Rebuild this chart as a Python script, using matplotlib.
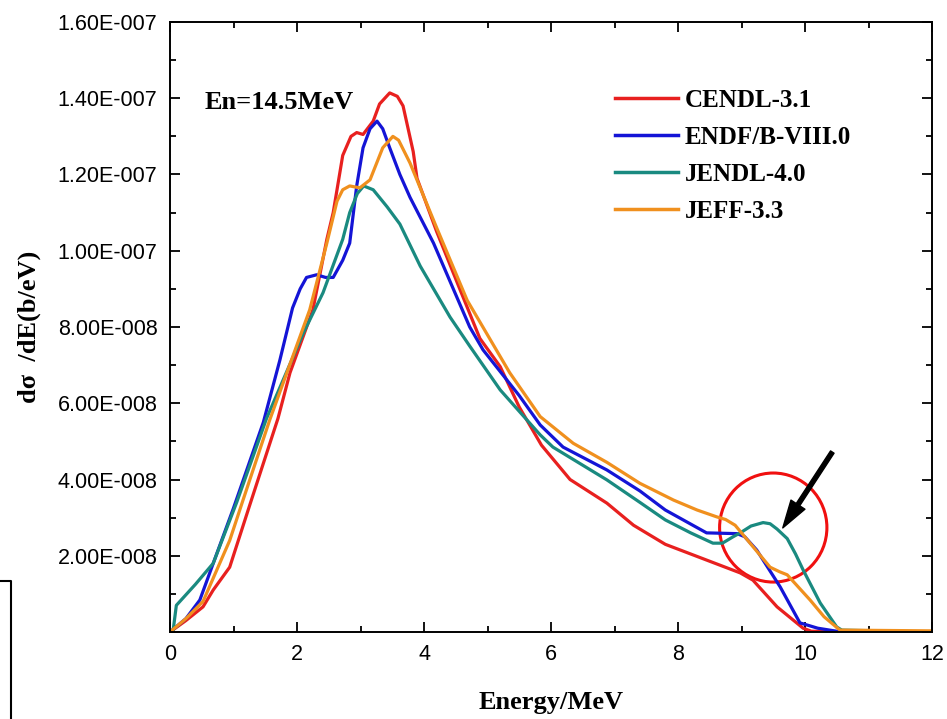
import matplotlib
matplotlib.use("Agg")
import matplotlib.pyplot as plt
from matplotlib.patches import Ellipse
from matplotlib.lines import Line2D
from matplotlib.ticker import MultipleLocator, FuncFormatter

# data, y in units of 1e-8 b/eV
cendl_x = [0, 0.25, 0.52, 0.68, 0.94, 1.26, 1.7, 1.89, 2.25, 2.47, 2.57, 2.63, 2.72, 2.85, 2.94, 3.04,
           3.2, 3.3, 3.46, 3.58, 3.67, 3.83, 3.89, 4.2, 4.57, 4.88, 5.2, 5.5, 5.85, 6.3, 6.88, 7.3, 7.8,
           8.98, 9.18, 9.56, 9.97, 10.1, 11, 12]
cendl_y = [0, 0.3, 0.66, 1.1, 1.7, 3.35, 5.6, 6.8, 8.45, 10.3, 11.0, 11.6, 12.5, 13.0, 13.1, 13.05,
           13.4, 13.85, 14.14, 14.05, 13.8, 12.6, 11.9, 10.5, 8.97, 7.7, 6.96, 5.9, 4.9, 4.0, 3.38, 2.8, 2.3,
           1.55, 1.36, 0.66, 0.1, 0.02, 0.0, 0.0]

endf_x = [0, 0.25, 0.47, 0.74, 1.0, 1.47, 1.73, 1.93, 2.05, 2.15, 2.31, 2.45, 2.57, 2.72, 2.83, 2.94,
          3.04, 3.15, 3.26, 3.35, 3.46, 3.62, 3.78, 4.15, 4.72, 4.93, 5.5, 5.83, 6.19, 6.88, 7.4, 7.8,
          8.45, 8.93, 9.05, 9.24, 9.61, 9.92, 10.2, 10.5, 12]
endf_y = [0, 0.35, 0.84, 2.07, 3.25, 5.5, 7.13, 8.5, 9.0, 9.3, 9.37, 9.3, 9.3, 9.75, 10.2, 11.7,
          12.7, 13.2, 13.4, 13.2, 12.7, 12.0, 11.4, 10.2, 8.0, 7.4, 6.2, 5.43, 4.85, 4.25, 3.7, 3.2,
          2.6, 2.58, 2.5, 2.15, 1.18, 0.24, 0.1, 0.02, 0.0]

jendl_x = [0, 0.05, 0.1, 0.4, 0.68, 1.05, 1.52, 2.1, 2.41, 2.72, 2.83, 2.95, 3.05, 3.2, 3.42, 3.62,
           3.94, 4.41, 4.72, 5.2, 5.83, 6.03, 6.88, 7.4, 7.8, 8.2, 8.55, 8.7, 8.87, 8.98, 9.15, 9.34,
           9.45, 9.56, 9.72, 9.85, 9.97, 10.24, 10.5, 10.58, 12]
jendl_y = [0, 0.05, 0.7, 1.25, 1.8, 3.4, 5.6, 7.84, 8.9, 10.3, 11.0, 11.5, 11.7, 11.6, 11.15, 10.7,
           9.6, 8.26, 7.5, 6.35, 5.17, 4.85, 3.99, 3.4, 2.94, 2.6, 2.33, 2.33, 2.5, 2.6, 2.78, 2.87,
           2.84, 2.7, 2.45, 2.05, 1.63, 0.76, 0.13, 0.05, 0.0]

jeff_x = [0, 0.25, 0.52, 0.94, 1.15, 1.57, 2.2, 2.47, 2.63, 2.72, 2.83, 2.99, 3.15, 3.35, 3.51, 3.6,
          3.78, 4.2, 4.68, 5.35, 5.83, 6.35, 6.88, 7.4, 7.93, 8.3, 8.61, 8.75, 8.9, 9.1, 9.45, 9.6,
          9.72, 10.08, 10.3, 10.55, 12]
jeff_y = [0, 0.35, 0.8, 2.4, 3.46, 5.56, 8.45, 10.2, 11.3, 11.6, 11.7, 11.65, 11.86, 12.7, 13.0, 12.9,
          12.3, 10.6, 8.7, 6.8, 5.65, 4.95, 4.45, 3.9, 3.46, 3.2, 3.02, 2.95, 2.8, 2.4, 1.7, 1.58,
          1.5, 0.84, 0.4, 0.05, 0.03]

labels = ["CENDL-3.1", "ENDF/B-VIII.0", "JENDL-4.0", "JEFF-3.3"]
colors = ["#e8201f", "#1414d6", "#1a8a80", "#f0901e"]
series = [(cendl_x, cendl_y), (endf_x, endf_y), (jendl_x, jendl_y), (jeff_x, jeff_y)]

serif = ["Liberation Serif", "DejaVu Serif"]
sans = "Liberation Sans"

fig = plt.figure(figsize=(9.47, 7.19), dpi=100)
ax = fig.add_axes([170/947, 1-632/719, (932-170)/947, (632-22)/719])

for (xs, ys), c, lab in zip(series, colors, labels):
    ax.plot(xs, [v*1e-8 for v in ys], color=c, lw=2.3, label=lab)

ax.set_xlim(0, 12)
ax.set_ylim(0, 1.6e-7)
ax.xaxis.set_major_locator(MultipleLocator(2))
ax.xaxis.set_minor_locator(MultipleLocator(1))
ax.yaxis.set_major_locator(MultipleLocator(2e-8))
ax.yaxis.set_minor_locator(MultipleLocator(1e-8))


def fmt(v, pos):
    if abs(v) < 1e-12:
        return ""
    s = "{:.2E}".format(v)
    m, e = s.split("E")
    e = int(e)
    return "{}E{}{:03d}".format(m, "-" if e < 0 else "+", abs(e))


ax.yaxis.set_major_formatter(FuncFormatter(fmt))
ax.tick_params(which="both", direction="in", top=True, right=True, width=1.3)
ax.tick_params(which="major", length=7, labelsize=15.5, pad=9)
ax.tick_params(which="minor", length=4.5)
for t in ax.get_xticklabels() + ax.get_yticklabels():
    t.set_fontfamily(sans)
for s in ax.spines.values():
    s.set_linewidth(1.4)

ax.set_xlabel("Energy/MeV", fontfamily=serif, fontweight="bold", fontsize=19, labelpad=18)
ax.set_ylabel("d\u03c3  /dE(b/eV)", fontfamily=serif, fontweight="bold", fontsize=19, labelpad=12)

ax.text(0.55, 13.9e-8, "En=14.5MeV", fontfamily=serif, fontweight="bold", fontsize=19,
        va="center", ha="left")

leg = ax.legend(loc="upper left", bbox_to_anchor=(615/947, 1-89/719), bbox_transform=fig.transFigure,
                frameon=False, handlelength=2.5, handletextpad=0.3, labelspacing=0.56,
                borderpad=0, borderaxespad=0, prop={"family": serif, "weight": "bold", "size": 18})
for h in leg.get_lines():
    h.set_linewidth(2.5)

# highlighted region
ax.add_patch(Ellipse((9.5, 2.74e-8), width=1.69, height=2.86e-8, fill=False,
                     edgecolor="#f01010", lw=2.2))
ax.annotate("", xy=(9.65, 2.73e-8), xytext=(10.43, 4.72e-8),
            arrowprops=dict(facecolor="black", edgecolor="black", width=3, headwidth=12,
                            headlength=20, shrink=0))

# stray frame at lower left
fig.add_artist(Line2D([0, 11/947, 11/947], [1-581/719, 1-581/719, 0],
                      transform=fig.transFigure, color="black", lw=1.5))

fig.savefig("out.png", dpi=100)
